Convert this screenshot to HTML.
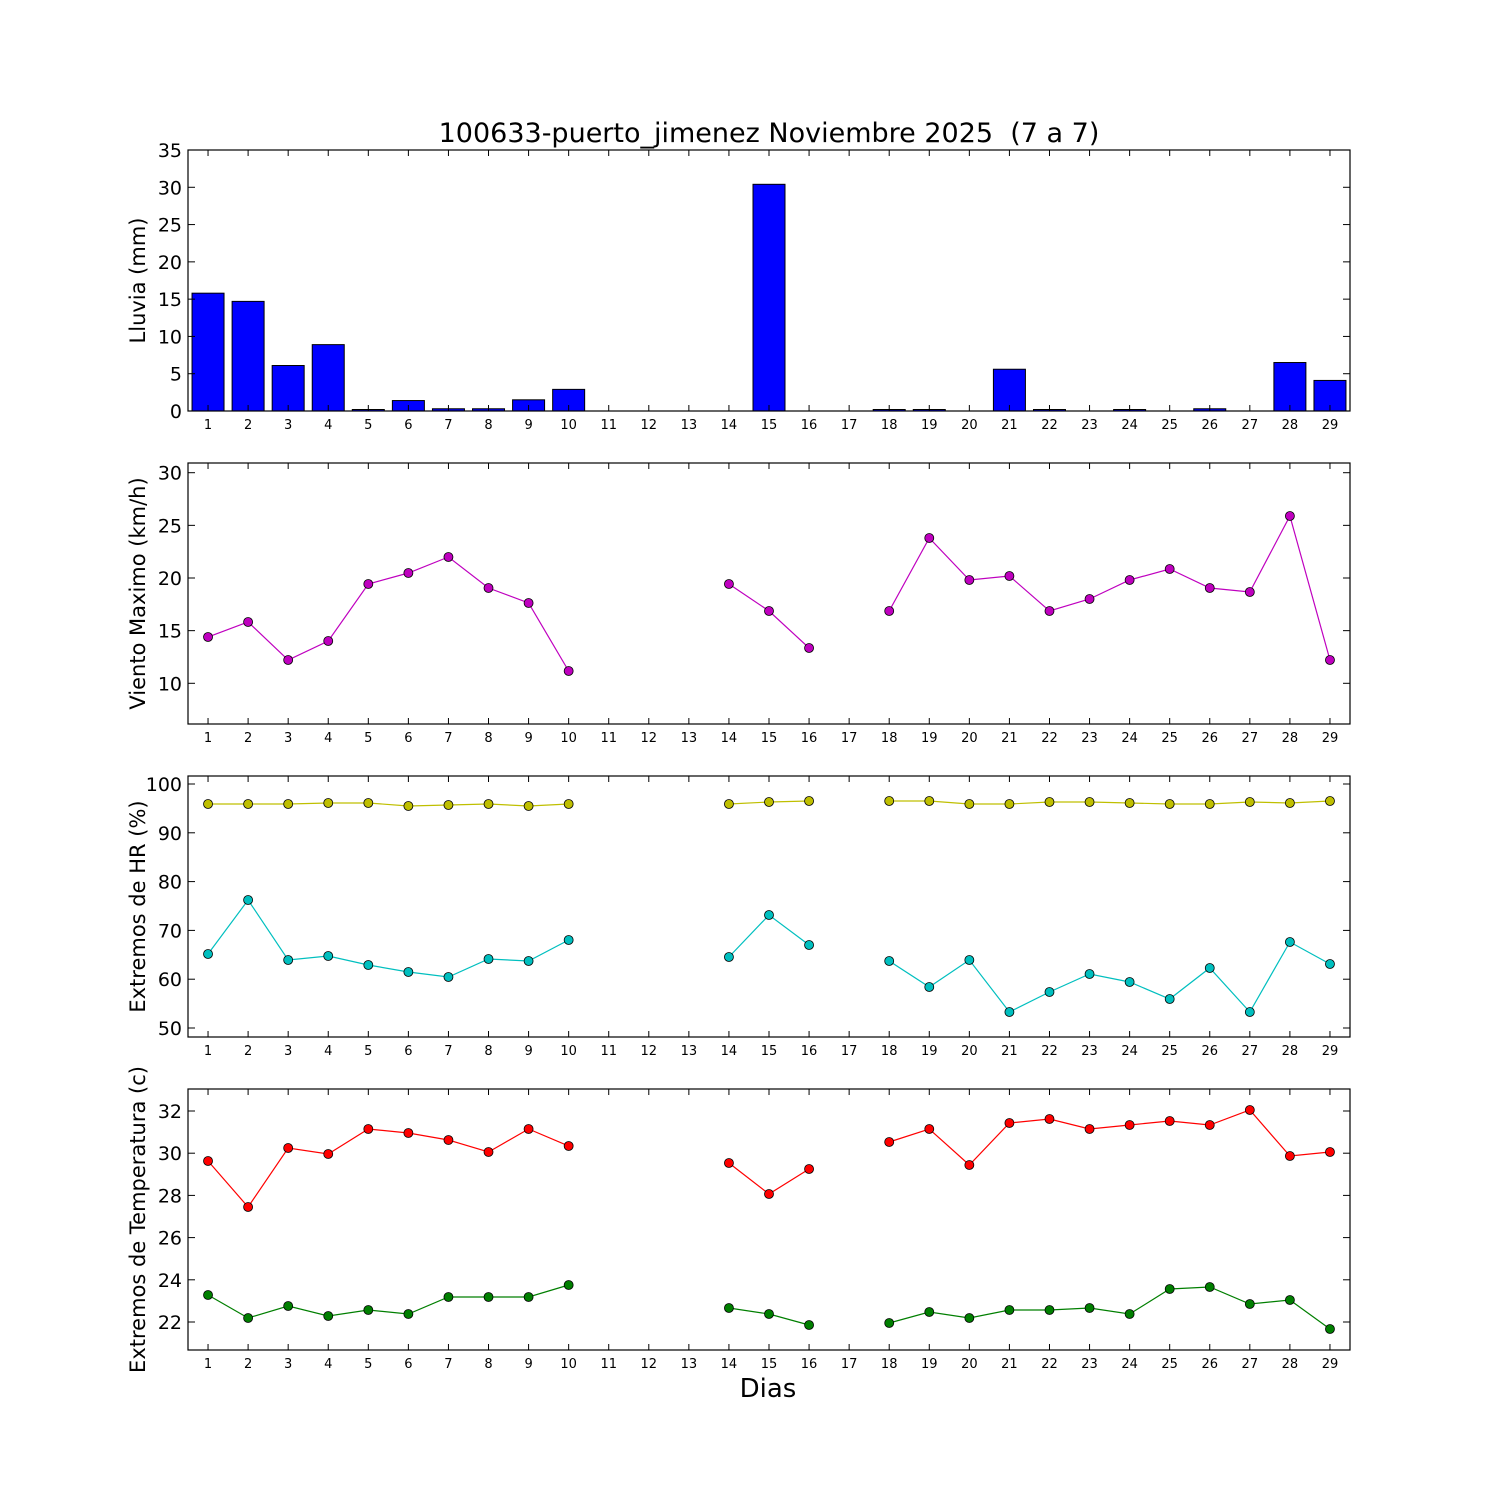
<!DOCTYPE html>
<html><head><meta charset="utf-8"><style>body{margin:0;background:#fff}svg{display:block}text{font-family:"DejaVu Sans","Liberation Sans",sans-serif}</style></head>
<body>
<svg id="s" width="1500" height="1500" xmlns="http://www.w3.org/2000/svg"></svg>
<script>
const s=document.getElementById('s');let h='';
const L=188,R=1350;const X=d=>188+(d-0.5)*(1162/29);
h+=`<text x="769" y="142" font-size="27" text-anchor="middle" style="white-space:pre" xml:space="preserve">100633-puerto_jimenez Noviembre 2025  (7 a 7)</text>`;
const panels=[
 {t:150,b:411,lab:'Lluvia (mm)',ticks:[0,5,10,15,20,25,30,35],py:v=>411-v*261/35},
 {t:463,b:724,lab:'Viento Maximo (km/h)',ticks:[10,15,20,25,30],py:v=>578-(v-20)*10.53},
 {t:776,b:1037,lab:'Extremos de HR (%)',ticks:[50,60,70,80,90,100],py:v=>1028-(v-50)*4.88},
 {t:1089,b:1350,lab:'Extremos de Temperatura (c)',ticks:[22,24,26,28,30,32],py:v=>1322-(v-22)*21.1}];
const rain={1:15.8,2:14.7,3:6.1,4:8.9,5:0.2,6:1.4,7:0.3,8:0.3,9:1.5,10:2.9,15:30.4,18:0.2,19:0.2,21:5.6,22:0.2,24:0.2,26:0.3,28:6.5,29:4.1};
for(const d in rain){const y=panels[0].py(rain[d]);h+=`<rect x="${X(+d)-16}" y="${y}" width="32" height="${411-y}" fill="#00f" stroke="#000" stroke-width="1"/>`;}
function series(pts,col){let segs=[],cur=[];for(let d=1;d<=29;d++){if(pts[d]==null){if(cur.length)segs.push(cur);cur=[];}else cur.push([X(d),pts[d]]);}if(cur.length)segs.push(cur);
 for(const sg of segs)h+=`<polyline points="${sg.map(p=>p.join(',')).join(' ')}" fill="none" stroke="${col}" stroke-width="1.2"/>`;
 for(const sg of segs)for(const p of sg)h+=`<circle cx="${p[0]}" cy="${p[1]}" r="4.5" fill="${col}" stroke="#000" stroke-width="0.8"/>`;}
function mk(arr){const o={};const days=[1,2,3,4,5,6,7,8,9,10,14,15,16,18,19,20,21,22,23,24,25,26,27,28,29];days.forEach((d,i)=>o[d]=arr[i]);return o;}
series(mk([637,622,660,641,584,573,557,588,603,671,584,611,648,611,538,580,576,611,599,580,569,588,592,516,660]),'#bf00bf');
series(mk([804,804,804,803,803,806,805,804,806,804,804,802,801,801,801,804,804,802,802,803,804,804,802,803,801]),'#bfbf00');
series(mk([954,900,960,956,965,972,977,959,961,940,957,915,945,961,987,960,1012,992,974,982,999,968,1012,942,964]),'#00bfbf');
series(mk([1161,1207,1148,1154,1129,1133,1140,1152,1129,1146,1163,1194,1169,1142,1129,1165,1123,1119,1129,1125,1121,1125,1110,1156,1152]),'#f00');
series(mk([1295,1318,1306,1316,1310,1314,1297,1297,1297,1285,1308,1314,1325,1323,1312,1318,1310,1310,1308,1314,1289,1287,1304,1300,1329]),'#007f00');
for(const p of panels){
 h+=`<rect x="${L}" y="${p.t}" width="${R-L}" height="${p.b-p.t}" fill="none" stroke="#000" stroke-width="1.2"/>`;
 for(const v of p.ticks){const y=p.py(v);h+=`<line x1="${L}" x2="${L+7}" y1="${y}" y2="${y}" stroke="#000"/><line x1="${R-7}" x2="${R}" y1="${y}" y2="${y}" stroke="#000"/><text x="${L-6}" y="${y+7}" font-size="19" text-anchor="end">${v}</text>`;}
 for(let d=1;d<=29;d++){const x=X(d);h+=`<line x1="${x}" x2="${x}" y1="${p.b}" y2="${p.b-6}" stroke="#000"/><line x1="${x}" x2="${x}" y1="${p.t}" y2="${p.t+6}" stroke="#000"/><text x="${x}" y="${p.b+18}" font-size="13" text-anchor="middle">${d}</text>`;}
 const cy=(p.t+p.b)/2;h+=`<text transform="translate(145,${cy}) rotate(-90)" font-size="21" text-anchor="middle">${p.lab}</text>`;
}
h+=`<text x="768" y="1397" font-size="26" text-anchor="middle">Dias</text>`;
s.innerHTML=h;
</script>
</body></html>
